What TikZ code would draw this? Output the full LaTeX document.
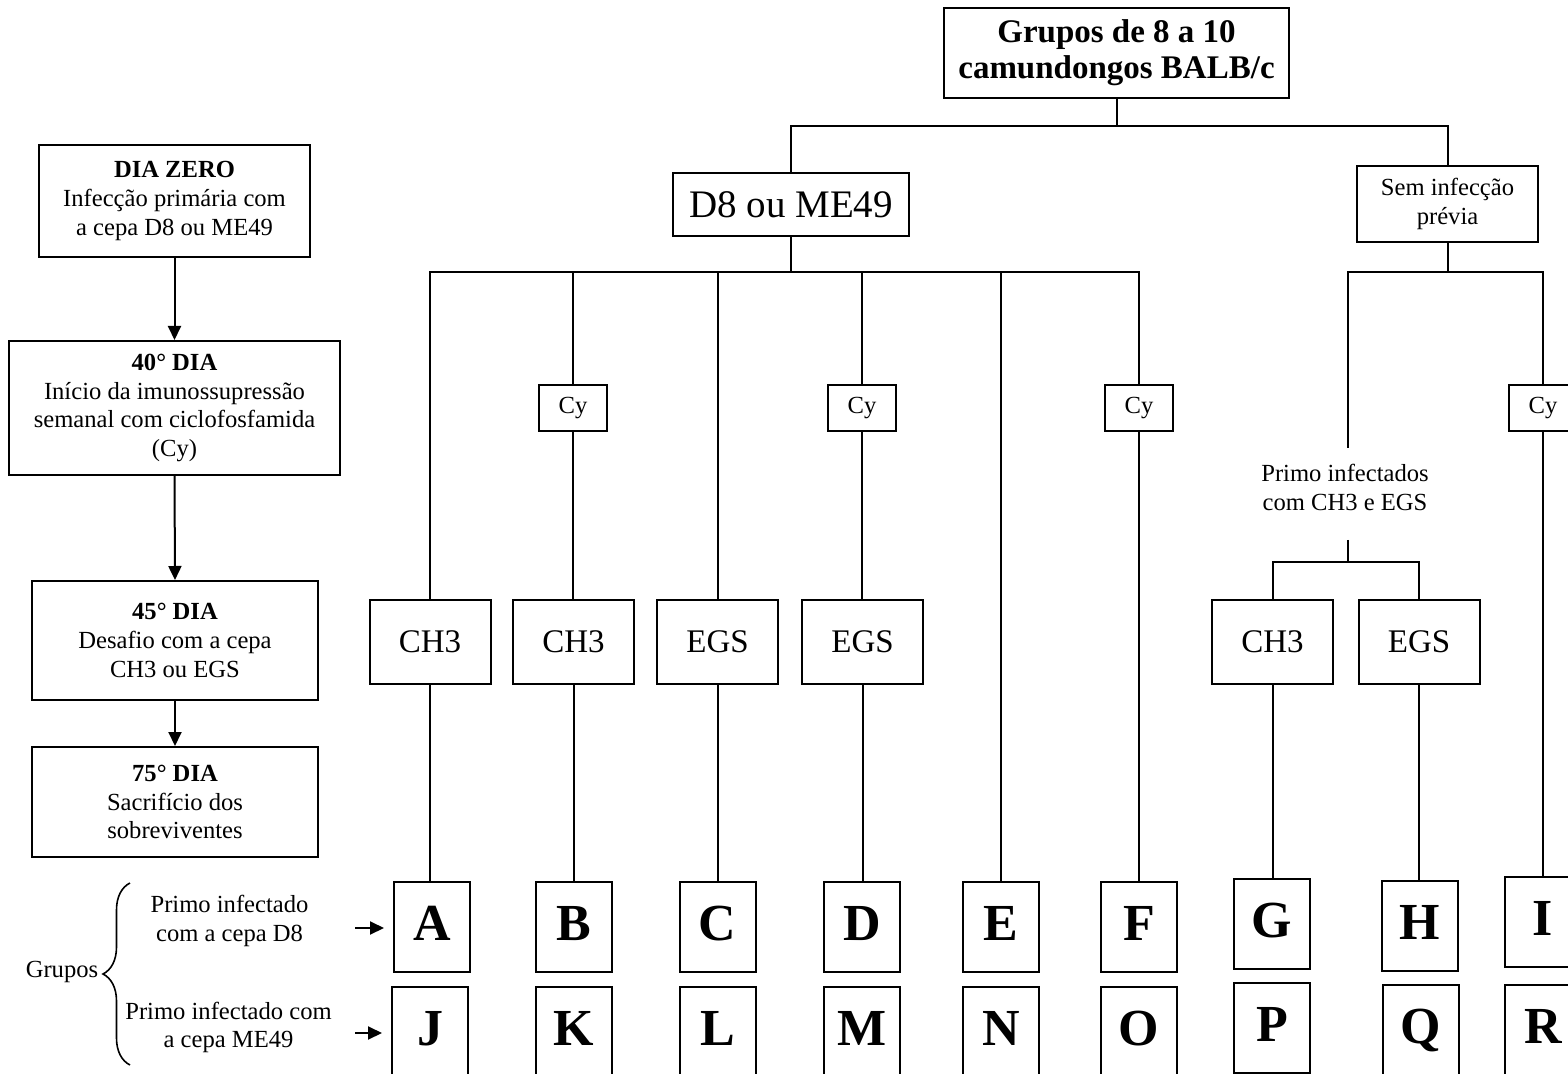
\documentclass[tikz,border=0pt]{standalone}
\usepackage{fontspec}
\setmainfont{Liberation Serif}
\usetikzlibrary{arrows.meta,decorations.pathreplacing}
\begin{document}
\begin{tikzpicture}[x=0.5pt,y=-0.5pt,
  box/.style={draw,line width=1pt,rectangle,inner sep=0pt,align=center,font=\fontsize{12.3}{14.3}\selectfont},
  bigbox/.style={box,minimum width=60.5pt,minimum height=42pt,font=\fontsize{16.5}{19}\selectfont},
  letter/.style={box,minimum width=38pt,minimum height=45pt,text height=13.5pt,text depth=0pt,font=\fontsize{26}{30}\selectfont\bfseries},
  cybox/.style={box,minimum width=34pt,minimum height=23pt},
  ln/.style={line width=1pt},
  arr/.style={line width=1pt,-{Triangle[length=7pt,width=6.5pt]}},
  plain/.style={align=center,inner sep=0pt,font=\fontsize{12.3}{14.3}\selectfont}]
\useasboundingbox (0,0) rectangle (1568,1074);
\fill[white] (0,0) rectangle (1568,1074);
\clip (0,0) rectangle (1568,1074);

% top
\node[box,minimum width=172.5pt,minimum height=45pt,font=\fontsize{16.5}{18}\selectfont\bfseries] (top) at (1116.5,53) {Grupos de 8 a 10\\camundongos BALB/c};
\node[box,minimum width=118pt,minimum height=31.5pt,font=\fontsize{19.5}{23}\selectfont] (d8) at (791,204.5) {D8 ou ME49};
\node[box,minimum width=90.5pt,minimum height=38pt] (sem) at (1447.5,204) {Sem infecção\\prévia};

% left timeline
\node[box,minimum width=135.5pt,minimum height=56pt] (dz) at (174.5,201) {\textbf{DIA ZERO}\\Infecção primária com\\a cepa D8 ou ME49};
\node[box,minimum width=165.5pt,minimum height=67pt] (d40) at (174.5,408) {\textbf{40° DIA}\\Início da imunossupressão\\semanal com ciclofosfamida\\(Cy)};
\node[box,minimum width=143pt,minimum height=59.5pt] (d45) at (175,640.5) {\textbf{45° DIA}\\Desafio com a cepa\\CH3 ou EGS};
\node[box,minimum width=143pt,minimum height=55pt] (d75) at (175,802) {\textbf{75° DIA}\\Sacrifício dos\\sobreviventes};
\draw[arr] (dz.south) -- (d40.north);
\draw[arr] (d40.south) -- (d45.north);
\draw[arr] (d45.south) -- (d75.north);

% Cy boxes
\node[cybox] (cy1) at (573,408) {Cy};
\node[cybox] (cy2) at (862,408) {Cy};
\node[cybox] (cy3) at (1139,408) {Cy};
\node[cybox] (cy4) at (1543,408) {Cy};

% strain boxes
\node[bigbox] (ch1) at (430,642) {CH3};
\node[bigbox] (ch2) at (573.5,642) {CH3};
\node[bigbox] (eg1) at (717.5,642) {EGS};
\node[bigbox] (eg2) at (862.5,642) {EGS};
\node[bigbox] (ch4) at (1272.5,642) {CH3};
\node[bigbox] (eg4) at (1419,642) {EGS};

\node[plain] (prim) at (1345,487.5) {Primo infectados\\com CH3 e EGS};

% letters
\node[letter] (A) at (432,927) {A};
\node[letter] (B) at (573.5,927) {B};
\node[letter] (C) at (717.5,927) {C};
\node[letter] (D) at (862,927) {D};
\node[letter] (E) at (1001,927) {E};
\node[letter] (F) at (1139,927) {F};
\node[letter] (G) at (1272,923.5) {G};
\node[letter] (H) at (1419.5,925.5) {H};
\node[letter] (I) at (1543,921.5) {I};
\node[letter] (J) at (430,1032) {J};
\node[letter] (K) at (573.5,1032) {K};
\node[letter] (L) at (717.5,1032) {L};
\node[letter] (M) at (862,1032) {M};
\node[letter] (N) at (1001,1032) {N};
\node[letter] (O) at (1139,1032) {O};
\node[letter] (P) at (1272,1028) {P};
\node[letter] (Q) at (1421,1030) {Q};
\node[letter] (R) at (1543,1030) {R};

% tree connectors
\coordinate (tb) at (1116.5,126);
\draw[ln] (top.south) -- (tb);
\draw[ln] (d8.north) |- (tb) -| (sem.north);

\coordinate (db) at (791,272);
\draw[ln] (d8.south) -- (db);
\draw[ln] (ch1.north) |- (db);
\draw[ln] (cy1.north) |- (db);
\draw[ln] (eg1.north) |- (db);
\draw[ln] (cy2.north) |- (db);
\draw[ln] (E.north) |- (db);
\draw[ln] (cy3.north) |- (db);
\draw[ln] (cy1.south) -- (cy1.south |- ch2.north);
\draw[ln] (cy2.south) -- (cy2.south |- eg2.north);
\draw[ln] (cy3.south) -- (F.north);
\draw[ln] (ch1.south) -- (ch1.south |- A.north);
\draw[ln] (ch2.south) -- (ch2.south |- B.north);
\draw[ln] (eg1.south) -- (eg1.south |- C.north);
\draw[ln] (eg2.south) -- (eg2.south |- D.north);

\coordinate (sb) at (1447.5,272);
\coordinate (pt) at (1348,448);
\draw[ln] (sem.south) -- (sb);
\draw[ln] (pt) |- (sb) -| (cy4.north);
\draw[ln] (cy4.south) -- (I.north);
\coordinate (pb) at (1348,540);
\coordinate (pbb) at (1348,562);
\draw[ln] (pb) -- (pbb);
\draw[ln] (ch4.north) |- (pbb) -| (eg4.north);
\draw[ln] (ch4.south) -- (ch4.south |- G.north);
\draw[ln] (eg4.south) -- (eg4.south |- H.north);

% bottom-left legend
\node[plain] (grupos) at (62,972) {Grupos};
\draw[line width=0.8pt,decorate,decoration={brace,amplitude=13.5pt}] (130,1065) -- (130,883);
\node[plain] (lab1) at (229.5,921) {Primo infectado\\com a cepa D8};
\node[plain] (lab2) at (228.5,1027.5) {Primo infectado com\\a cepa ME49};
\coordinate (s1) at (355,928);
\coordinate (s2) at (355,1033);
\draw[arr,shorten >=4.5pt] (s1) -- (s1 -| A.west);
\draw[arr,shorten >=4.5pt] (s2) -- (s2 -| J.west);
\end{tikzpicture}
\end{document}
